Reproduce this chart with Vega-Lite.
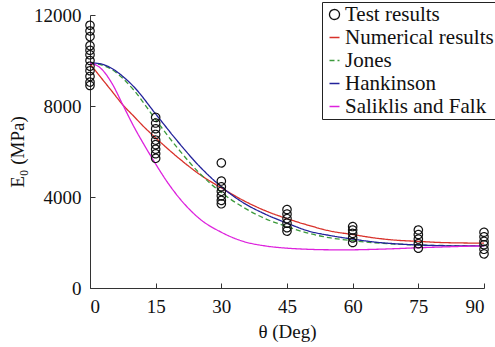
{
  "$schema": "https://vega.github.io/schema/vega-lite/v6.json",
  "width": 394,
  "height": 273,
  "autosize": "none",
  "padding": {"left": 90, "top": 15, "right": 11, "bottom": 59},
  "config": {
    "view": {"stroke": null},
    "font": "Liberation Serif",
    "axis": {
      "grid": false,
      "domainColor": "#333333",
      "tickColor": "#333333",
      "labelColor": "#111111",
      "titleColor": "#111111",
      "labelFont": "Liberation Serif",
      "titleFont": "Liberation Serif",
      "labelFontSize": 19,
      "titleFontSize": 19,
      "titleFontWeight": "normal",
      "tickSize": -5,
      "labelPadding": 14,
      "format": "d"
    },
    "legend": {
      "labelFont": "Liberation Serif",
      "labelFontSize": 21,
      "labelColor": "#111111"
    }
  },
  "datasets": {
    "curves": [
      {"deg": 0, "E": 9850, "series": "Numerical results"},
      {"deg": 2.5, "E": 9250, "series": "Numerical results"},
      {"deg": 5, "E": 8650, "series": "Numerical results"},
      {"deg": 7.5, "E": 8050, "series": "Numerical results"},
      {"deg": 10, "E": 7550, "series": "Numerical results"},
      {"deg": 12.5, "E": 7050, "series": "Numerical results"},
      {"deg": 15, "E": 6600, "series": "Numerical results"},
      {"deg": 20, "E": 5750, "series": "Numerical results"},
      {"deg": 25, "E": 5000, "series": "Numerical results"},
      {"deg": 30, "E": 4400, "series": "Numerical results"},
      {"deg": 35, "E": 3850, "series": "Numerical results"},
      {"deg": 40, "E": 3400, "series": "Numerical results"},
      {"deg": 45, "E": 3050, "series": "Numerical results"},
      {"deg": 50, "E": 2750, "series": "Numerical results"},
      {"deg": 55, "E": 2500, "series": "Numerical results"},
      {"deg": 60, "E": 2350, "series": "Numerical results"},
      {"deg": 65, "E": 2200, "series": "Numerical results"},
      {"deg": 70, "E": 2100, "series": "Numerical results"},
      {"deg": 75, "E": 2050, "series": "Numerical results"},
      {"deg": 80, "E": 2000, "series": "Numerical results"},
      {"deg": 85, "E": 1980, "series": "Numerical results"},
      {"deg": 90, "E": 1970, "series": "Numerical results"},

      {"deg": 0, "E": 9900, "series": "Jones"},
      {"deg": 5, "E": 9600, "series": "Jones"},
      {"deg": 10, "E": 8700, "series": "Jones"},
      {"deg": 15, "E": 7400, "series": "Jones"},
      {"deg": 20, "E": 6150, "series": "Jones"},
      {"deg": 25, "E": 5050, "series": "Jones"},
      {"deg": 30, "E": 4200, "series": "Jones"},
      {"deg": 35, "E": 3550, "series": "Jones"},
      {"deg": 40, "E": 3050, "series": "Jones"},
      {"deg": 45, "E": 2700, "series": "Jones"},
      {"deg": 50, "E": 2400, "series": "Jones"},
      {"deg": 55, "E": 2200, "series": "Jones"},
      {"deg": 60, "E": 2080, "series": "Jones"},
      {"deg": 65, "E": 1990, "series": "Jones"},
      {"deg": 70, "E": 1930, "series": "Jones"},
      {"deg": 75, "E": 1890, "series": "Jones"},
      {"deg": 80, "E": 1870, "series": "Jones"},
      {"deg": 85, "E": 1860, "series": "Jones"},
      {"deg": 90, "E": 1860, "series": "Jones"},

      {"deg": 0, "E": 9900, "series": "Hankinson"},
      {"deg": 2.5, "E": 9850, "series": "Hankinson"},
      {"deg": 5, "E": 9650, "series": "Hankinson"},
      {"deg": 7.5, "E": 9300, "series": "Hankinson"},
      {"deg": 10, "E": 8850, "series": "Hankinson"},
      {"deg": 15, "E": 7650, "series": "Hankinson"},
      {"deg": 20, "E": 6450, "series": "Hankinson"},
      {"deg": 25, "E": 5350, "series": "Hankinson"},
      {"deg": 30, "E": 4450, "series": "Hankinson"},
      {"deg": 35, "E": 3750, "series": "Hankinson"},
      {"deg": 40, "E": 3250, "series": "Hankinson"},
      {"deg": 45, "E": 2850, "series": "Hankinson"},
      {"deg": 50, "E": 2500, "series": "Hankinson"},
      {"deg": 55, "E": 2300, "series": "Hankinson"},
      {"deg": 60, "E": 2150, "series": "Hankinson"},
      {"deg": 65, "E": 2020, "series": "Hankinson"},
      {"deg": 70, "E": 1940, "series": "Hankinson"},
      {"deg": 75, "E": 1890, "series": "Hankinson"},
      {"deg": 80, "E": 1860, "series": "Hankinson"},
      {"deg": 85, "E": 1850, "series": "Hankinson"},
      {"deg": 90, "E": 1850, "series": "Hankinson"},

      {"deg": 0, "E": 9900, "series": "Saliklis and Falk"},
      {"deg": 2.5, "E": 9650, "series": "Saliklis and Falk"},
      {"deg": 5, "E": 9000, "series": "Saliklis and Falk"},
      {"deg": 7.5, "E": 8050, "series": "Saliklis and Falk"},
      {"deg": 10, "E": 7100, "series": "Saliklis and Falk"},
      {"deg": 12.5, "E": 6250, "series": "Saliklis and Falk"},
      {"deg": 15, "E": 5450, "series": "Saliklis and Falk"},
      {"deg": 17.5, "E": 4700, "series": "Saliklis and Falk"},
      {"deg": 20, "E": 4050, "series": "Saliklis and Falk"},
      {"deg": 22.5, "E": 3500, "series": "Saliklis and Falk"},
      {"deg": 25, "E": 3050, "series": "Saliklis and Falk"},
      {"deg": 30, "E": 2450, "series": "Saliklis and Falk"},
      {"deg": 35, "E": 2050, "series": "Saliklis and Falk"},
      {"deg": 40, "E": 1850, "series": "Saliklis and Falk"},
      {"deg": 45, "E": 1750, "series": "Saliklis and Falk"},
      {"deg": 50, "E": 1700, "series": "Saliklis and Falk"},
      {"deg": 55, "E": 1680, "series": "Saliklis and Falk"},
      {"deg": 60, "E": 1680, "series": "Saliklis and Falk"},
      {"deg": 65, "E": 1700, "series": "Saliklis and Falk"},
      {"deg": 70, "E": 1730, "series": "Saliklis and Falk"},
      {"deg": 75, "E": 1770, "series": "Saliklis and Falk"},
      {"deg": 80, "E": 1800, "series": "Saliklis and Falk"},
      {"deg": 85, "E": 1830, "series": "Saliklis and Falk"},
      {"deg": 90, "E": 1850, "series": "Saliklis and Falk"}
    ],
    "tests": [
      {"deg": 0, "E": 11550, "series": "Test results"},
      {"deg": 0, "E": 11300, "series": "Test results"},
      {"deg": 0, "E": 11050, "series": "Test results"},
      {"deg": 0, "E": 10650, "series": "Test results"},
      {"deg": 0, "E": 10450, "series": "Test results"},
      {"deg": 0, "E": 10250, "series": "Test results"},
      {"deg": 0, "E": 10000, "series": "Test results"},
      {"deg": 0, "E": 9750, "series": "Test results"},
      {"deg": 0, "E": 9550, "series": "Test results"},
      {"deg": 0, "E": 9300, "series": "Test results"},
      {"deg": 0, "E": 9050, "series": "Test results"},
      {"deg": 0, "E": 8900, "series": "Test results"},
      {"deg": 15, "E": 7500, "series": "Test results"},
      {"deg": 15, "E": 7250, "series": "Test results"},
      {"deg": 15, "E": 7000, "series": "Test results"},
      {"deg": 15, "E": 6750, "series": "Test results"},
      {"deg": 15, "E": 6500, "series": "Test results"},
      {"deg": 15, "E": 6300, "series": "Test results"},
      {"deg": 15, "E": 6100, "series": "Test results"},
      {"deg": 15, "E": 5900, "series": "Test results"},
      {"deg": 15, "E": 5700, "series": "Test results"},
      {"deg": 30, "E": 5500, "series": "Test results"},
      {"deg": 30, "E": 4700, "series": "Test results"},
      {"deg": 30, "E": 4450, "series": "Test results"},
      {"deg": 30, "E": 4250, "series": "Test results"},
      {"deg": 30, "E": 4050, "series": "Test results"},
      {"deg": 30, "E": 3850, "series": "Test results"},
      {"deg": 30, "E": 3700, "series": "Test results"},
      {"deg": 45, "E": 3450, "series": "Test results"},
      {"deg": 45, "E": 3250, "series": "Test results"},
      {"deg": 45, "E": 3050, "series": "Test results"},
      {"deg": 45, "E": 2850, "series": "Test results"},
      {"deg": 45, "E": 2650, "series": "Test results"},
      {"deg": 45, "E": 2500, "series": "Test results"},
      {"deg": 60, "E": 2700, "series": "Test results"},
      {"deg": 60, "E": 2550, "series": "Test results"},
      {"deg": 60, "E": 2400, "series": "Test results"},
      {"deg": 60, "E": 2200, "series": "Test results"},
      {"deg": 60, "E": 2000, "series": "Test results"},
      {"deg": 75, "E": 2550, "series": "Test results"},
      {"deg": 75, "E": 2350, "series": "Test results"},
      {"deg": 75, "E": 2150, "series": "Test results"},
      {"deg": 75, "E": 1950, "series": "Test results"},
      {"deg": 75, "E": 1750, "series": "Test results"},
      {"deg": 90, "E": 2450, "series": "Test results"},
      {"deg": 90, "E": 2250, "series": "Test results"},
      {"deg": 90, "E": 2050, "series": "Test results"},
      {"deg": 90, "E": 1900, "series": "Test results"},
      {"deg": 90, "E": 1700, "series": "Test results"},
      {"deg": 90, "E": 1500, "series": "Test results"}
    ]
  },
  "layer": [
    {
      "data": {"name": "curves"},
      "mark": {"type": "line", "strokeWidth": 1.3, "interpolate": "monotone"},
      "encoding": {
        "x": {"field": "deg", "type": "quantitative", "scale": {"domain": [0, 90]}, "axis": {"values": [0, 15, 30, 45, 60, 75, 90], "title": "θ (Deg)", "titlePadding": 6}},
        "y": {"field": "E", "type": "quantitative", "scale": {"domain": [0, 12000]}, "axis": {"values": [0, 4000, 8000, 12000], "title": "E₀ (MPa)", "titlePadding": 6}},
        "color": {"field": "series", "type": "nominal"},
        "strokeDash": {"field": "series", "type": "nominal"}
      }
    },
    {
      "data": {"name": "tests"},
      "mark": {"type": "point", "filled": false, "size": 70, "strokeWidth": 1.2, "opacity": 1},
      "encoding": {
        "x": {"field": "deg", "type": "quantitative"},
        "y": {"field": "E", "type": "quantitative"},
        "color": {
          "field": "series", "type": "nominal",
          "scale": {"domain": ["Test results", "Numerical results", "Jones", "Hankinson", "Saliklis and Falk"], "range": ["#111111", "#d8312a", "#3c9a3c", "#22229a", "#dd22dd"]},
          "legend": {"title": null, "orient": "none", "legendX": 232, "legendY": -13, "strokeColor": "#222222", "padding": 2, "fillColor": "white", "rowPadding": 1, "symbolStrokeWidth": 1.3, "symbolSize": 100, "labelOffset": 0, "labelFont": "Liberation Serif", "labelFontSize": 21}
        },
        "shape": {
          "field": "series", "type": "nominal",
          "scale": {"domain": ["Test results", "Numerical results", "Jones", "Hankinson", "Saliklis and Falk"], "range": ["circle", "stroke", "stroke", "stroke", "stroke"]},
          "legend": {"title": null, "orient": "none", "legendX": 232, "legendY": -13}
        },
        "strokeDash": {
          "field": "series", "type": "nominal",
          "scale": {"domain": ["Test results", "Numerical results", "Jones", "Hankinson", "Saliklis and Falk"], "range": [[1, 0], [1, 0], [5, 3], [1, 0], [1, 0]]},
          "legend": {"title": null, "orient": "none", "legendX": 232, "legendY": -13}
        }
      }
    }
  ]
}
